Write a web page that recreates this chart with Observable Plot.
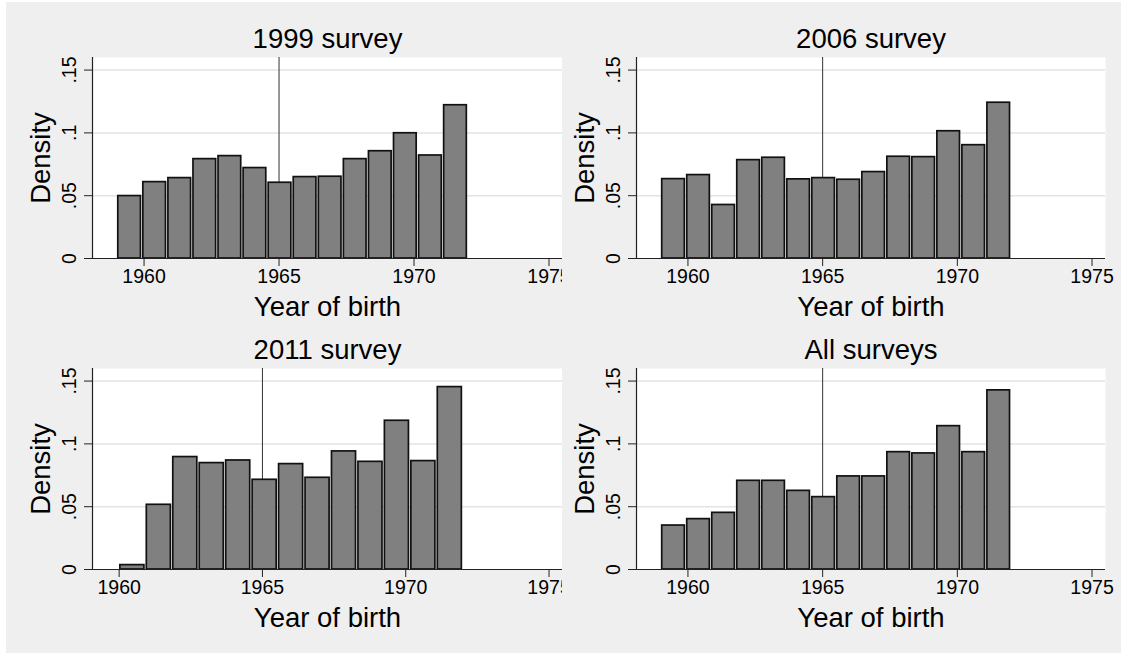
<!DOCTYPE html>
<html><head><meta charset="utf-8">
<script src="https://cdn.jsdelivr.net/npm/d3@7"></script>
<script src="https://cdn.jsdelivr.net/npm/@observablehq/plot@0.6"></script>
<style>
html,body{margin:0;padding:0;background:#fff;}
#wrap{position:relative;width:1121px;height:653px;background:#fff;overflow:hidden;}
#bg{position:absolute;left:6px;top:2px;width:1115px;height:651px;background:#efefef;}
</style></head><body>
<div id="wrap"><div id="bg"></div></div>
<script>
// ---- data ----
const titles = ["1999 survey", "2006 survey", "2011 survey", "All surveys"];
const binStart = [1959, 1959, 1960, 1959];
const binEnd = [1972, 1972, 1972, 1972];
const d1999 = [0.0497, 0.0608, 0.064, 0.0791, 0.0815, 0.072, 0.0603, 0.0648, 0.0651, 0.0791, 0.0854, 0.0997, 0.082, 0.122];
const d2006 = [0.0632, 0.0664, 0.0426, 0.0783, 0.0802, 0.063, 0.064, 0.0627, 0.0688, 0.081, 0.0807, 0.1013, 0.0902, 0.124];
const d2011 = [0.0035, 0.0515, 0.0895, 0.0847, 0.0868, 0.0714, 0.0839, 0.073, 0.094, 0.0857, 0.1184, 0.0863, 0.1452];
const dAll = [0.035, 0.0401, 0.0451, 0.0706, 0.0706, 0.0626, 0.0576, 0.0741, 0.0741, 0.0934, 0.0924, 0.1141, 0.0934, 0.1426];
const densities = [d1999, d2006, d2011, dAll];
const xTicks = [1960, 1965, 1970, 1975];
const yTicks = [0, 0.05, 0.1, 0.15];
const yTickLabels = ["0", ".05", ".1", ".15"];
const xDomains = [[1958.09, 1975.5], [1958.09, 1975.5], [1959.07, 1975.47], [1958.09, 1975.5]];
const yDomain = [0, 0.16];
const cutoffYear = 1965;
const xLabel = "Year of birth";
const yLabel = "Density";

// ---- layout (cells) ----
const cells = [
  {left: 6,   top: 2,   width: 556, height: 323, ml: 86, mr: 0,  mt: 55, mb: 67},
  {left: 562, top: 2,   width: 559, height: 323, ml: 74, mr: 16, mt: 55, mb: 67},
  {left: 6,   top: 325, width: 556, height: 328, ml: 86, mr: 0,  mt: 43, mb: 84},
  {left: 562, top: 325, width: 559, height: 328, ml: 74, mr: 16, mt: 43, mb: 84}
];

const FONT = "'Liberation Sans', Arial, Helvetica, sans-serif";
const wrap = document.getElementById("wrap");

cells.forEach((c, p) => {
  const vals = densities[p];
  const w = (binEnd[p] - binStart[p]) / vals.length;
  const bins = vals.map((v, i) => ({x1: binStart[p] + i * w, x2: binStart[p] + (i + 1) * w, density: v}));
  const dom = xDomains[p];
  const svg = Plot.plot({
    width: c.width, height: c.height,
    marginLeft: c.ml, marginRight: c.mr, marginTop: c.mt, marginBottom: c.mb,
    x: {domain: dom, label: null},
    y: {domain: yDomain, label: null},
    style: {background: "transparent", overflow: "hidden", fontFamily: FONT, fontSize: "19.5px", color: "#000"},
    marks: [
      Plot.frame({fill: "white", stroke: null}),
      Plot.gridY(yTicks.slice(1), {stroke: "#e3e3e3", strokeOpacity: 1, strokeWidth: 1.5}),
      Plot.ruleX([cutoffYear], {stroke: "#333", strokeWidth: 1}),
      Plot.rectY(bins, {x1: "x1", x2: "x2", y: "density", fill: "#808080", stroke: "#111", strokeWidth: 1.7, insetLeft: 1.2, insetRight: 1.2}),
      Plot.ruleY([0], {stroke: "#222", strokeWidth: 1.2}),
      Plot.ruleX([dom[0]], {stroke: "#222", strokeWidth: 1.2}),
      Plot.axisX(xTicks, {tickSize: 8, tickPadding: 2.5, tickFormat: d => String(d), stroke: "#222", label: null}),
      Plot.axisY(yTicks, {tickSize: 8, tickFormat: () => "", stroke: "#222", label: null}),
      Plot.text(yTicks, {y: d => d, text: (d, i) => yTickLabels[i], frameAnchor: "left", dx: -16.7, rotate: -90, textAnchor: "middle", lineAnchor: "bottom", fontSize: 19.5, fill: "#000"}),
      Plot.text([yLabel], {text: d => d, frameAnchor: "left", dx: -43, rotate: -90, textAnchor: "middle", lineAnchor: "bottom", fontSize: 27.5, fill: "#000"}),
      Plot.text([xLabel], {text: d => d, frameAnchor: "bottom", dy: 57, textAnchor: "middle", lineAnchor: "bottom", fontSize: 27.5, fill: "#000"}),
      Plot.text([titles[p]], {text: d => d, frameAnchor: "top", dy: -10, textAnchor: "middle", lineAnchor: "bottom", fontSize: 27.5, fill: "#000"})
    ]
  });
  svg.style.position = "absolute";
  svg.style.left = c.left + "px";
  svg.style.top = c.top + "px";
  svg.style.maxWidth = "none";
  wrap.appendChild(svg);
});
</script>
</body></html>
